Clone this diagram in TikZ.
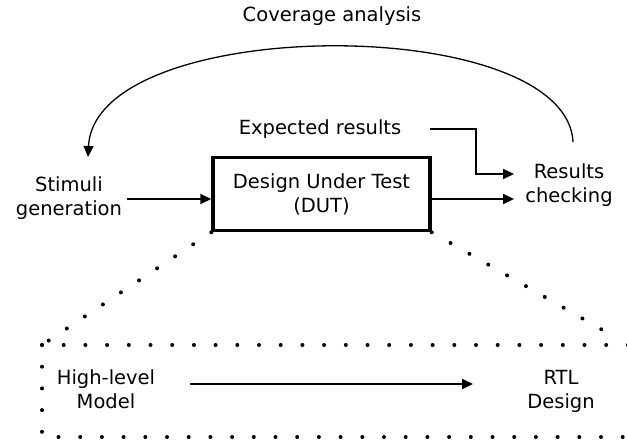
\documentclass[tikz,border=0pt]{standalone}
\usepackage{fontspec}
\setmainfont{DejaVu Sans}
\usetikzlibrary{arrows.meta}
\begin{document}
\begin{tikzpicture}[x=1pt,y=-1pt,
  lbl/.style={font=\fontsize{19.5}{24}\selectfont, align=center, inner sep=0pt},
  conn/.style={line width=2pt, -{Triangle[length=11pt,width=10pt]}},
  dotsline/.style={line width=4pt, line cap=round, dash pattern=on 0pt off 21.7pt},
  dutbox/.style={draw, line width=3.5pt, minimum width=217pt, minimum height=73pt, inner sep=0pt}]
\useasboundingbox (0,0) rectangle (627,444);
% nodes
\node[lbl] (cov) at (332,16) {Coverage analysis};
\node[lbl] (exp) at (320,129) {Expected results};
\node[dutbox, lbl] (dut) at (321.5,194) {Design Under Test\\(DUT)};
\node[lbl] (stim) at (69,198) {Stimuli\\generation};
\node[lbl] (res) at (569,185) {Results\\checking};
\node[lbl] (hl) at (106,389) {High-level\\Model};
\node[lbl] (rtl) at (561,391) {RTL\\Design};
% coordinates for connector ends
\coordinate (stimout) at (127,199);
\coordinate (dutin) at (dut.west |- stimout);
\coordinate (dutout) at (dut.east |- stimout);
\coordinate (resin) at (514,199);
\coordinate (expout) at (430,129);
\coordinate (expturn) at (476,129);
\coordinate (resin2) at (514,174);
\coordinate (covstart) at (573,142);
\coordinate (stimin) at (88,157);
\coordinate (hlout) at (190,384);
\coordinate (rtlin) at (473,384);
% connectors
\draw[conn] (stimout) -- (dutin);
\draw[conn] (dutout) -- (resin);
\draw[conn] (expout) -- (expturn) |- (resin2);
\draw[line width=1.3pt, -{Triangle[length=11pt,width=10pt]}] (covstart) .. controls (566,12) and (95,14) .. (stimin);
\draw[conn] (hlout) -- (rtlin);
% dotted zoom lines
\coordinate (bl) at (42,345);
\coordinate (br) at (620,340);
\draw[dotsline] (dut.south west) -- (bl);
\draw[dotsline] (dut.south east) -- (br);
\draw[dotsline] (bl) -- (630,345);
\draw[dotsline] (bl) -- (42,437) -- (640,437);
\end{tikzpicture}
\end{document}
